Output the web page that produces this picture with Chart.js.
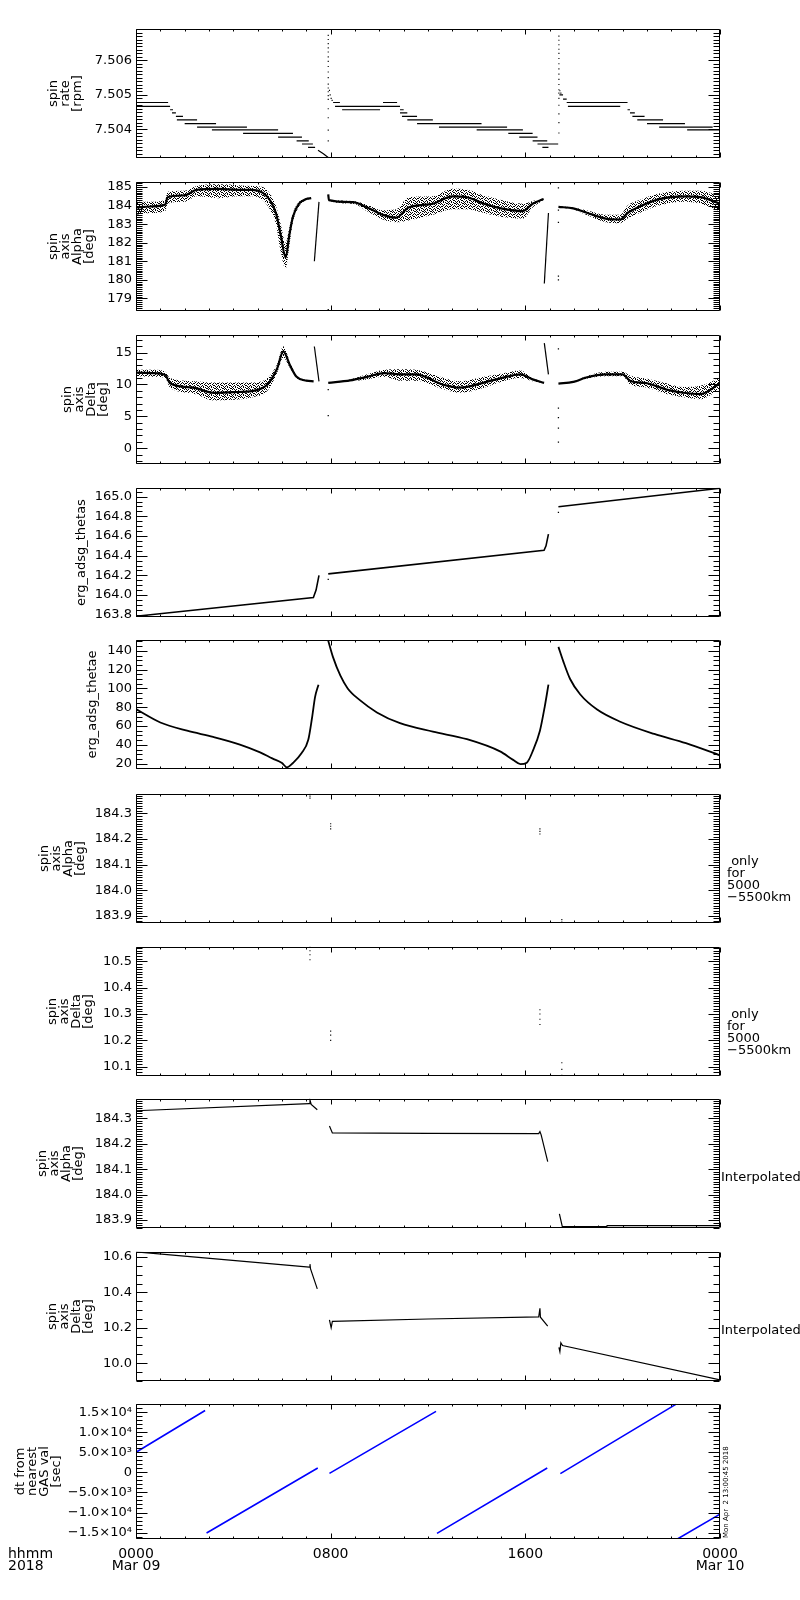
<!DOCTYPE html>
<html>
<head>
<meta charset="utf-8">
<title>ERG spin axis</title>
<script src="https://cdn.jsdelivr.net/npm/chart.js@4.4.1/dist/chart.umd.min.js"></script>
<style>
  body { margin: 0; background: #fff; }
  #wrap { position: relative; width: 800px; height: 1600px; }
  #wrap canvas { position: absolute; left: 0; }
</style>
</head>
<body>
<div id="wrap"></div>
<script>
'use strict';

// x values are hours after 0000 Mar 09 2018
const X_MAJOR = [0, 8, 16, 24];
const X_TICK_LABELS = [['0000', 'Mar 09'], ['0800', ''], ['1600', ''], ['0000', 'Mar 10']];

// spin rate [rpm]
const RATE_TICKS = [7.504, 7.505, 7.506];
const RATE_TICK_LABELS = ['7.504', '7.505', '7.506'];
const RATE_STEP_START = [0, 0, 1.40, 1.48, 1.64, 1.68, 2.00, 2.51, 3.12, 4.40, 5.84, 6.60, 6.82, 7.07,
  8.10, 8.18, 8.47, 10.15, 10.85, 10.85, 10.93, 11.15, 11.55, 12.45, 14.00, 15.30, 15.75, 16.30, 16.50, 16.70,
  17.40, 17.55, 17.70, 17.75, 20.20, 20.30, 20.40, 20.60, 21.00, 21.50, 22.65];
const RATE_STEP_END = [1.32, 1.40, 1.52, 1.64, 1.93, 2.51, 3.29, 4.56, 5.84, 6.45, 6.82, 7.10, 7.27, 7.36,
  8.38, 10.85, 10.03, 10.73, 11.00, 11.15, 11.55, 12.20, 14.20, 15.25, 15.90, 16.30, 16.50, 16.90, 17.35, 16.95,
  17.55, 17.70, 20.20, 19.90, 20.30, 20.50, 20.90, 21.66, 22.56, 23.70, 24.00];
const RATE_STEP_LEVEL = [7.50478, 7.50467, 7.50457, 7.50448, 7.50438, 7.50428, 7.50417, 7.50407, 7.50399, 7.50389, 7.50378, 7.50367, 7.50358, 7.50348,
  7.50478, 7.50467, 7.50457, 7.50478, 7.50457, 7.50448, 7.50438, 7.50428, 7.50417, 7.50407, 7.50399, 7.50389, 7.50378, 7.50367, 7.50358, 7.50348,
  7.50500, 7.50488, 7.50478, 7.50467, 7.50457, 7.50448, 7.50438, 7.50428, 7.50417, 7.50407, 7.50399];
const RATE_SLOPE_H = [7.48, 7.70, 7.90];
const RATE_SLOPE_V = [7.50340, 7.50330, 7.50319];
const RATE_DOT_H = [7.90, 7.90, 7.90, 7.90, 7.90, 7.90, 7.90, 7.90, 7.90, 7.90, 7.90, 7.90, 7.90, 7.90, 7.90, 7.90, 7.90, 7.90, 7.90,
  7.95, 7.98, 8.02, 8.06,
  17.38, 17.38, 17.38, 17.38, 17.38, 17.38, 17.38, 17.38, 17.38, 17.38, 17.38, 17.38, 17.38, 17.38, 17.38, 17.38, 17.38, 17.38,
  17.42, 17.46];
const RATE_DOT_V = [7.50672, 7.50660, 7.50648, 7.50636, 7.50624, 7.50610, 7.50597, 7.50582, 7.50566, 7.50550, 7.50531, 7.50520, 7.50509, 7.50498, 7.50487, 7.50460, 7.50434, 7.50398, 7.50367,
  7.50513, 7.50500, 7.50490, 7.50484,
  7.50670, 7.50658, 7.50645, 7.50632, 7.50620, 7.50605, 7.50590, 7.50575, 7.50560, 7.50545, 7.50530, 7.50515, 7.50505, 7.50490, 7.50470, 7.50445, 7.50420, 7.50390,
  7.50512, 7.50505];

// spin axis Alpha [deg]
const ALPHA_TICKS = [179, 180, 181, 182, 183, 184, 185];
const ALPHA_TICK_LABELS = ['179', '180', '181', '182', '183', '184', '185'];
const ALPHA_S1_H = [0, 0.6, 1.2, 1.3, 2.0, 2.5, 3.4, 4.2, 4.8, 5.2, 5.5, 5.75, 5.95, 6.15, 6.3, 6.45, 6.7, 7.0, 7.2];
const ALPHA_S1_MID = [183.9, 183.95, 184.05, 184.45, 184.55, 184.85, 184.9, 184.85, 184.85, 184.7, 184.3, 183.6, 182.4, 181.2, 182.4, 183.4, 184.1, 184.35, 184.4];
const ALPHA_S1_HI = [184.2, 184.2, 184.3, 184.75, 184.8, 185.05, 185.15, 185.1, 185.05, 185.0, 184.65, 184.0, 183.0, 182.0, 182.8, 183.6, 184.2, 184.4, 184.45];
const ALPHA_S1_LO = [183.5, 183.6, 183.7, 184.1, 184.2, 184.5, 184.4, 184.5, 184.5, 184.3, 183.8, 183.0, 181.5, 180.6, 181.8, 183.1, 183.95, 184.3, 184.35];
const ALPHA_S2_H = [7.9, 7.93, 8.9, 9.5, 10.15, 10.7, 11.2, 12.2, 13.0, 13.6, 14.3, 15.0, 15.9, 16.3, 16.75];
const ALPHA_S2_MID = [184.6, 184.29, 184.18, 183.9, 183.5, 183.35, 183.9, 184.1, 184.5, 184.45, 184.1, 183.85, 183.7, 184.1, 184.35];
const ALPHA_S2_HI = [184.6, 184.32, 184.25, 184.05, 183.75, 183.8, 184.45, 184.5, 184.9, 184.85, 184.55, 184.3, 184.1, 184.25, 184.38];
const ALPHA_S2_LO = [184.6, 184.26, 184.1, 183.7, 183.25, 183.1, 183.2, 183.5, 183.8, 183.8, 183.6, 183.4, 183.3, 183.9, 184.3];
const ALPHA_S3_H = [17.36, 17.97, 18.5, 19.3, 19.9, 20.2, 20.7, 21.5, 22.5, 23.2, 24];
const ALPHA_S3_MID = [183.93, 183.85, 183.63, 183.3, 183.25, 183.6, 183.95, 184.35, 184.5, 184.45, 184.1];
const ALPHA_S3_HI = [183.96, 183.9, 183.75, 183.5, 183.5, 184.0, 184.3, 184.65, 184.8, 184.8, 184.5];
const ALPHA_S3_LO = [183.9, 183.8, 183.5, 183.1, 183.05, 183.3, 183.6, 184.0, 184.2, 184.1, 183.7];
const ALPHA_JUMP1_H = [7.33, 7.52], ALPHA_JUMP1_V = [181.0, 184.2];
const ALPHA_JUMP2_H = [16.78, 16.95], ALPHA_JUMP2_V = [179.8, 183.6];
const ALPHA_DOT_H = [7.90, 17.36, 17.36, 17.36, 17.36, 17.36];
const ALPHA_DOT_V = [178.4, 184.95, 183.76, 183.1, 180.2, 180.0];

// spin axis Delta [deg]
const DELTA_TICKS = [0, 5, 10, 15];
const DELTA_TICK_LABELS = ['0', '5', '10', '15'];
const DELTA_S1_H = [0, 0.7, 1.2, 1.4, 2.35, 3.2, 4.0, 4.8, 5.4, 5.8, 6.05, 6.33, 6.6, 7.0, 7.3];
const DELTA_S1_MID = [11.85, 11.8, 11.5, 10.2, 9.5, 8.7, 8.8, 9.0, 10.0, 12.5, 15.2, 13.0, 11.2, 10.6, 10.5];
const DELTA_S1_HI = [12.3, 12.3, 12.0, 11.0, 10.5, 10.3, 10.3, 10.3, 11.0, 13.2, 16.0, 13.5, 11.4, 10.7, 10.55];
const DELTA_S1_LO = [11.3, 11.2, 11.0, 9.5, 8.6, 7.5, 7.6, 8.0, 9.0, 11.8, 14.2, 12.6, 11.0, 10.5, 10.45];
const DELTA_S2_H = [7.9, 8.8, 9.5, 10.2, 10.85, 11.5, 12.6, 13.3, 14.3, 15.0, 15.8, 16.3, 16.77];
const DELTA_S2_MID = [10.25, 10.64, 11.2, 11.8, 11.6, 11.6, 10.0, 9.5, 10.3, 11.0, 11.6, 10.8, 10.25];
const DELTA_S2_HI = [10.3, 10.8, 11.6, 12.3, 12.4, 12.3, 11.1, 10.5, 11.2, 11.7, 12.2, 11.0, 10.3];
const DELTA_S2_LO = [10.2, 10.5, 10.8, 11.2, 10.6, 10.6, 9.3, 8.7, 9.5, 10.4, 11.0, 10.5, 10.2];
const DELTA_S3_H = [17.36, 17.97, 18.5, 19.3, 20.0, 20.3, 21.0, 21.8, 22.5, 23.2, 24];
const DELTA_S3_MID = [10.15, 10.4, 11.1, 11.6, 11.6, 10.6, 10.2, 9.2, 8.7, 8.5, 10.2];
const DELTA_S3_HI = [10.2, 10.5, 11.3, 12.0, 12.0, 11.4, 10.9, 10.2, 9.6, 9.8, 11.0];
const DELTA_S3_LO = [10.1, 10.3, 10.9, 11.3, 11.3, 10.0, 9.5, 8.5, 8.0, 7.7, 9.3];
const DELTA_JUMP1_H = [7.33, 7.52], DELTA_JUMP1_V = [15.96, 10.5];
const DELTA_JUMP2_H = [16.78, 16.95], DELTA_JUMP2_V = [16.5, 11.6];
const DELTA_DOT_H = [7.9, 7.9, 17.36, 17.36, 17.36, 17.36, 17.36];
const DELTA_DOT_V = [5.1, 9.2, 15.6, 6.3, 4.8, 3.15, 0.97];

// erg_adsg_thetas
const THETAS_TICKS = [163.8, 164.0, 164.2, 164.4, 164.6, 164.8, 165.0];
const THETAS_TICK_LABELS = ['163.8', '164.0', '164.2', '164.4', '164.6', '164.8', '165.0'];
const THETAS_S1_H = [0, 7.29, 7.40, 7.52], THETAS_S1_V = [163.784, 163.975, 164.05, 164.2];
const THETAS_S2_H = [7.9, 16.77, 16.85, 16.95], THETAS_S2_V = [164.215, 164.455, 164.50, 164.62];
const THETAS_S3_H = [17.36, 24], THETAS_S3_V = [164.897, 165.085];
const THETAS_DOT_H = [7.9, 17.36], THETAS_DOT_V = [164.16, 164.84];

// erg_adsg_thetae
const THETAE_TICKS = [20, 40, 60, 80, 100, 120, 140];
const THETAE_TICK_LABELS = ['20', '40', '60', '80', '100', '120', '140'];
const THETAE_S1_H = [0, 1.0, 2.1, 3.17, 4.27, 5.1, 5.6, 6.0, 6.2, 6.45, 6.8, 7.08, 7.23, 7.36, 7.5];
const THETAE_S1_V = [78, 63.8, 55, 48.4, 40.3, 32, 25.6, 20.7, 16, 20.7, 31, 45.4, 68, 91, 104];
const THETAE_S2_H = [7.9, 8.1, 8.4, 8.7, 9.2, 9.9, 10.85, 12.2, 13.6, 14.96, 15.5, 15.8, 16.06, 16.3, 16.6, 16.8, 16.95];
const THETAE_S2_V = [150.7, 133, 113.5, 100, 87.5, 74.5, 63, 54, 46, 33, 24, 19.5, 21, 33, 55, 81, 104];
const THETAE_S3_H = [17.36, 17.55, 17.84, 18.25, 18.95, 19.9, 21.3, 22.6, 24];
const THETAE_S3_V = [144.2, 129.5, 110, 93.8, 77.5, 64.6, 51.6, 41.8, 28.8];

// Alpha / Delta only for 5000-5500km
const FINE_ALPHA_TICKS = [183.9, 184.0, 184.1, 184.2, 184.3];
const FINE_ALPHA_TICK_LABELS = ['183.9', '184.0', '184.1', '184.2', '184.3'];
const ONLY_ALPHA_H = [7.15, 7.15, 7.15, 8.0, 8.0, 8.0, 16.6, 16.6, 16.6, 17.5, 17.5];
const ONLY_ALPHA_V = [184.375, 184.368, 184.36, 184.26, 184.25, 184.24, 184.24, 184.23, 184.22, 183.885, 183.875];
const FINE_DELTA_TICKS = [10.1, 10.2, 10.3, 10.4, 10.5];
const FINE_DELTA_TICK_LABELS = ['10.1', '10.2', '10.3', '10.4', '10.5'];
const ONLY_DELTA_H = [7.15, 7.15, 7.15, 7.15, 8.0, 8.0, 8.0, 16.6, 16.6, 16.6, 16.6, 17.5, 17.5, 17.5];
const ONLY_DELTA_V = [10.555, 10.54, 10.525, 10.506, 10.235, 10.22, 10.2, 10.316, 10.3, 10.28, 10.26, 10.115, 10.09, 10.067];

// interpolated Alpha / Delta
const INTERP_ALPHA_S1_H = [0, 7.12, 7.15, 7.2, 7.45], INTERP_ALPHA_S1_V = [184.33, 184.358, 184.372, 184.355, 184.334];
const INTERP_ALPHA_S2_H = [7.95, 8.07, 12.0, 16.55, 16.6, 16.65, 16.92];
const INTERP_ALPHA_S2_V = [184.27, 184.243, 184.241, 184.24, 184.248, 184.235, 184.13];
const INTERP_ALPHA_S3_H = [17.4, 17.52, 19.35, 19.36, 24], INTERP_ALPHA_S3_V = [183.924, 183.874, 183.874, 183.878, 183.878];
const INTERP_DELTA_TICKS = [10.0, 10.2, 10.4, 10.6];
const INTERP_DELTA_TICK_LABELS = ['10.0', '10.2', '10.4', '10.6'];
const INTERP_DELTA_S1_H = [0, 7.12, 7.15, 7.17, 7.45], INTERP_DELTA_S1_V = [10.63, 10.543, 10.56, 10.535, 10.42];
const INTERP_DELTA_S2_H = [7.95, 8.02, 8.07, 12.0, 16.55, 16.6, 16.62, 16.92];
const INTERP_DELTA_S2_V = [10.245, 10.2, 10.236, 10.25, 10.262, 10.31, 10.26, 10.21];
const INTERP_DELTA_S3_H = [17.38, 17.42, 17.46, 17.53, 24], INTERP_DELTA_S3_V = [10.09, 10.065, 10.115, 10.1, 9.905];

// dt from nearest GAS val [sec]
const DT_TICKS = [-15000, -10000, -5000, 0, 5000, 10000, 15000];
const DT_TICK_LABELS = ['\u22121.5\u00d710\u2074', '\u22121.0\u00d710\u2074', '\u22125.0\u00d710\u00b3', '0', '5.0\u00d710\u00b3', '1.0\u00d710\u2074', '1.5\u00d710\u2074'];
const DT_START_H = [0, 2.9, 7.95, 12.37, 17.44, 22.25];
const DT_END_H = [2.84, 7.47, 12.33, 16.9, 22.2, 24];
const DT_START_V = [5000, -15100, -250, -15200, -300, -16600];
const DT_END_V = [15400, 1100, 15200, 1100, 17000, -10400];


// ---------- layout ----------
const PANEL_TOPS = [23, 176, 329, 482, 634, 788, 941, 1093, 1246, 1398];
const PANEL_H = 141;
const FONT = 'DejaVu Sans, Liberation Sans, sans-serif';

Chart.defaults.font.family = FONT;
Chart.defaults.color = '#000';

const pts = (xs, ys) => xs.map((x, i) => ({ x, y: ys[i] }));

function steps(starts, ends, levels) {
    const out = [];
    starts.forEach((s, i) => {
        out.push({ x: s, y: levels[i] }, { x: ends[i], y: levels[i] }, { x: ends[i], y: null });
    });
    return out;
}

// irregular speckle tile for the scattered measurement bands
const SPECKLE_ROWS = [
    '10010100',
    '01000011',
    '10101000',
    '00010010',
    '01100101',
    '10001000',
    '00100110',
    '01010001',
];
function speckle() {
    const c = document.createElement('canvas');
    c.width = c.height = 8;
    const g = c.getContext('2d');
    g.fillStyle = '#000';
    SPECKLE_ROWS.forEach((row, py) => {
        [...row].forEach((bit, px) => { if (bit === '1') g.fillRect(px, py, 1, 1); });
    });
    return g.createPattern(c, 'repeat');
}
const SPECKLE = speckle();

function lineSet(data, width = 1, color = '#000', smooth = false) {
    const ds = { data, borderColor: color, borderWidth: width, pointRadius: 0, fill: false, tension: 0, spanGaps: false };
    if (smooth) ds.cubicInterpolationMode = 'monotone';
    return ds;
}

function dotSet(data, r = 0.9) {
    return { data, showLine: false, pointRadius: r, pointStyle: 'rect', backgroundColor: '#000', borderWidth: 0 };
}

// noisy measurement band: speckled envelope plus dense core
function bandSets(xs, hi, lo, mid) {
    const edge = { borderWidth: 0, borderColor: 'rgba(0,0,0,0)', pointRadius: 0, cubicInterpolationMode: 'monotone' };
    return [
        { ...edge, data: pts(xs, hi), fill: false },
        { ...edge, data: pts(xs, lo), fill: '-1', backgroundColor: SPECKLE },
        lineSet(pts(xs, mid), 2.2, '#000', true),
    ];
}

const DT_SEGMENTS = [];
DT_START_H.forEach((h, i) => {
    DT_SEGMENTS.push({ x: h, y: DT_START_V[i] }, { x: DT_END_H[i], y: DT_END_V[i] }, { x: DT_END_H[i], y: null });
});

const ONLY_NOTE = { lines: [' only', 'for', '5000', '\u22125500km'], x: 727, dy: 68, lh: 12 };
const INTERP_NOTE = { lines: ['Interpolated'], x: 721, dy: 79, lh: 12 };

const PANELS = [
    { min: 7.50317, max: 7.50691, majors: RATE_TICKS, labels: RATE_TICK_LABELS, minor: 0.0001,
      title: ['spin', 'rate', '[rpm]'], titleX: 54,
      datasets: [lineSet(steps(RATE_STEP_START, RATE_STEP_END, RATE_STEP_LEVEL), 1.2),
                 lineSet(pts(RATE_SLOPE_H, RATE_SLOPE_V), 1.2),
                 dotSet(pts(RATE_DOT_H, RATE_DOT_V), 0.8)] },
    { min: 178.31, max: 185.28, majors: ALPHA_TICKS, labels: ALPHA_TICK_LABELS, minor: 0.1,
      title: ['spin', 'axis', 'Alpha', '[deg]'], titleX: 54,
      datasets: [...bandSets(ALPHA_S1_H, ALPHA_S1_HI, ALPHA_S1_LO, ALPHA_S1_MID),
                 ...bandSets(ALPHA_S2_H, ALPHA_S2_HI, ALPHA_S2_LO, ALPHA_S2_MID),
                 ...bandSets(ALPHA_S3_H, ALPHA_S3_HI, ALPHA_S3_LO, ALPHA_S3_MID),
                 lineSet(pts(ALPHA_JUMP1_H, ALPHA_JUMP1_V), 1.2),
                 lineSet(pts(ALPHA_JUMP2_H, ALPHA_JUMP2_V), 1.2),
                 dotSet(pts(ALPHA_DOT_H, ALPHA_DOT_V))] },
    { min: -2.51, max: 17.8, majors: DELTA_TICKS, labels: DELTA_TICK_LABELS, minor: 1,
      title: ['spin', 'axis', 'Delta', '[deg]'], titleX: 68,
      datasets: [...bandSets(DELTA_S1_H, DELTA_S1_HI, DELTA_S1_LO, DELTA_S1_MID),
                 ...bandSets(DELTA_S2_H, DELTA_S2_HI, DELTA_S2_LO, DELTA_S2_MID),
                 ...bandSets(DELTA_S3_H, DELTA_S3_HI, DELTA_S3_LO, DELTA_S3_MID),
                 lineSet(pts(DELTA_JUMP1_H, DELTA_JUMP1_V), 1.2),
                 lineSet(pts(DELTA_JUMP2_H, DELTA_JUMP2_V), 1.2),
                 dotSet(pts(DELTA_DOT_H, DELTA_DOT_V))] },
    { min: 163.775, max: 165.09, majors: THETAS_TICKS, labels: THETAS_TICK_LABELS, minor: 0.05,
      title: 'erg_adsg_thetas', titleX: 82,
      datasets: [lineSet(pts(THETAS_S1_H, THETAS_S1_V), 1.6),
                 lineSet(pts(THETAS_S2_H, THETAS_S2_V), 1.6),
                 lineSet(pts(THETAS_S3_H, THETAS_S3_V), 1.6),
                 dotSet(pts(THETAS_DOT_H, THETAS_DOT_V))] },
    { min: 14.1, max: 151.7, majors: THETAE_TICKS, labels: THETAE_TICK_LABELS, minor: 5,
      title: 'erg_adsg_thetae', titleX: 93,
      datasets: [lineSet(pts(THETAE_S1_H, THETAE_S1_V), 1.8, '#000', true),
                 lineSet(pts(THETAE_S2_H, THETAE_S2_V), 1.8, '#000', true),
                 lineSet(pts(THETAE_S3_H, THETAE_S3_V), 1.8, '#000', true)] },
    { min: 183.871, max: 184.377, majors: FINE_ALPHA_TICKS, labels: FINE_ALPHA_TICK_LABELS, minor: 0.01,
      title: ['spin', 'axis', 'Alpha', '[deg]'], titleX: 45, note: ONLY_NOTE,
      datasets: [dotSet(pts(ONLY_ALPHA_H, ONLY_ALPHA_V), 0.8)] },
    { min: 10.064, max: 10.555, majors: FINE_DELTA_TICKS, labels: FINE_DELTA_TICK_LABELS, minor: 0.01,
      title: ['spin', 'axis', 'Delta', '[deg]'], titleX: 53, note: ONLY_NOTE,
      datasets: [dotSet(pts(ONLY_DELTA_H, ONLY_DELTA_V), 0.8)] },
    { min: 183.868, max: 184.377, majors: FINE_ALPHA_TICKS, labels: FINE_ALPHA_TICK_LABELS, minor: 0.01,
      title: ['spin', 'axis', 'Alpha', '[deg]'], titleX: 43, note: INTERP_NOTE,
      datasets: [lineSet(pts(INTERP_ALPHA_S1_H, INTERP_ALPHA_S1_V), 1.2),
                 lineSet(pts(INTERP_ALPHA_S2_H, INTERP_ALPHA_S2_V), 1.2),
                 lineSet(pts(INTERP_ALPHA_S3_H, INTERP_ALPHA_S3_V), 1.2)] },
    { min: 9.898, max: 10.63, majors: INTERP_DELTA_TICKS, labels: INTERP_DELTA_TICK_LABELS, minor: 0.05,
      title: ['spin', 'axis', 'Delta', '[deg]'], titleX: 53, note: INTERP_NOTE,
      datasets: [lineSet(pts(INTERP_DELTA_S1_H, INTERP_DELTA_S1_V), 1.2),
                 lineSet(pts(INTERP_DELTA_S2_H, INTERP_DELTA_S2_V), 1.2),
                 lineSet(pts(INTERP_DELTA_S3_H, INTERP_DELTA_S3_V), 1.2)] },
    { min: -16600, max: 17081, majors: DT_TICKS, labels: DT_TICK_LABELS, minor: 1000,
      title: ['dt from', 'nearest', 'GAS val', '[sec]'], titleX: 21, stamp: 'Mon Apr  2 13:00:45 2018',
      datasets: [lineSet(DT_SEGMENTS, 1.6, '#0000ff')] },
];


// IDL-style frame: box, inward ticks on all four sides, side notes
const idlFrame = {
    id: 'idlFrame',
    afterDatasetsDraw(chart, args, o) {
        const { ctx, chartArea: a, scales: { x, y } } = chart;
        const L = Math.round(a.left) + 0.5, R = Math.round(a.right) - 0.5;
        const T = Math.round(a.top) + 0.5, B = Math.round(a.bottom) - 0.5;
        ctx.save();
        ctx.strokeStyle = '#000';
        ctx.lineWidth = 1;
        ctx.beginPath();
        ctx.rect(L, T, R - L, B - T);
        const k0 = Math.ceil(y.min / o.minor - 1e-6), k1 = Math.floor(y.max / o.minor + 1e-6);
        for (let k = k0; k <= k1; k++) {
            const v = k * o.minor;
            const major = o.majors.some(m => Math.abs(m - v) < o.minor / 10);
            const len = major ? 11 : 6;
            const py = Math.round(y.getPixelForValue(v)) + 0.5;
            ctx.moveTo(L, py); ctx.lineTo(L + len, py);
            ctx.moveTo(R, py); ctx.lineTo(R - len, py);
        }
        for (let h = 0; h <= 24; h++) {
            const len = h % 8 === 0 ? 5 : 2;
            const px = Math.round(x.getPixelForValue(h)) + 0.5;
            ctx.moveTo(px, T); ctx.lineTo(px, T + len);
            ctx.moveTo(px, B); ctx.lineTo(px, B - len);
        }
        ctx.stroke();

        ctx.fillStyle = '#000';
        ctx.textBaseline = 'middle';
        if (o.note) {
            ctx.font = '13px ' + FONT;
            ctx.textAlign = 'left';
            o.note.lines.forEach((line, i) => ctx.fillText(line, o.note.x, a.top + o.note.dy + i * o.note.lh));
        }
        if (o.stamp) {
            ctx.save();
            ctx.translate(726, a.bottom - 1);
            ctx.rotate(-Math.PI / 2);
            ctx.font = '7px ' + FONT;
            ctx.textAlign = 'left';
            ctx.fillText(o.stamp, 0, 0);
            ctx.restore();
        }
        if (o.corner) {
            ctx.font = '14px ' + FONT;
            ctx.textAlign = 'left';
            o.corner.forEach((line, i) => ctx.fillText(line, 8, a.bottom + 15 + i * 12));
        }
        ctx.restore();
    }
};


const wrap = document.getElementById('wrap');

PANELS.forEach((p, idx) => {
    const isLast = idx === PANELS.length - 1;
    const padT = 6;
    const padB = isLast ? 50 : 6;
    const canvas = document.createElement('canvas');
    canvas.width = 800;
    canvas.height = PANEL_H + padT + padB;
    canvas.style.width = '800px';
    canvas.style.height = canvas.height + 'px';
    canvas.style.top = (PANEL_TOPS[idx] - padT) + 'px';
    wrap.appendChild(canvas);

    new Chart(canvas, {
        type: 'line',
        data: { datasets: p.datasets },
        plugins: [idlFrame],
        options: {
            responsive: false,
            animation: false,
            devicePixelRatio: 1,
            events: [],
            layout: { padding: { top: padT, bottom: isLast ? 0 : padB, left: 0, right: 80 } },
            plugins: {
                legend: { display: false },
                tooltip: { enabled: false },
                idlFrame: {
                    majors: p.majors, minor: p.minor, note: p.note, stamp: p.stamp,
                    corner: isLast ? ['hhmm', '2018'] : null,
                },
            },
            scales: {
                x: {
                    type: 'linear', min: 0, max: 24,
                    display: isLast,
                    grid: { display: false, drawTicks: false },
                    border: { display: false },
                    afterBuildTicks: s => { s.ticks = X_MAJOR.map(v => ({ value: v })); },
                    afterFit: s => { if (isLast) s.height = 50; },
                    ticks: {
                        autoSkip: false, maxRotation: 0, padding: 9, color: '#000',
                        font: { size: 14, lineHeight: '12px' },
                        callback: (v, i) => X_TICK_LABELS[i],
                    },
                },
                y: {
                    type: 'linear', min: p.min, max: p.max,
                    grid: { display: false, drawTicks: false },
                    border: { display: false },
                    afterBuildTicks: s => { s.ticks = p.majors.map(v => ({ value: v })); },
                    afterFit: s => { s.width = 136; },
                    ticks: {
                        autoSkip: false, padding: 4, color: '#000',
                        font: { size: 13 },
                        callback: (v, i) => p.labels[i],
                    },
                    title: {
                        display: true, text: p.title, color: '#000',
                        font: { size: 13, lineHeight: '12px' },
                        padding: { top: p.titleX - 6, bottom: 0 },
                    },
                },
            },
        },
    });
});
</script>
</body>
</html>
